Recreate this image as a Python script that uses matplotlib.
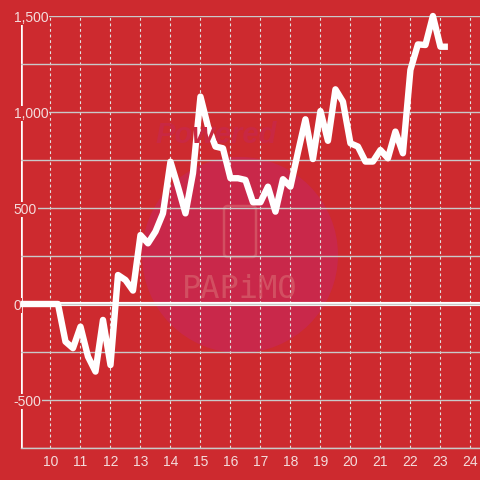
import numpy as np
import matplotlib
matplotlib.use("Agg")
import matplotlib.pyplot as plt
from matplotlib.patches import Circle, FancyBboxPatch

plt.rcParams["font.family"] = ["Liberation Sans", "DejaVu Sans"]

# hour of day (15 min steps) and running value
hours = [9.0, 9.25, 9.5, 9.75, 10.0, 10.25, 10.5, 10.75, 11.0, 11.25, 11.5, 11.75,
         12.0, 12.25, 12.5, 12.75, 13.0, 13.25, 13.5, 13.75, 14.0, 14.25, 14.5, 14.75,
         15.0, 15.25, 15.5, 15.75, 16.0, 16.25, 16.5, 16.75, 17.0, 17.25, 17.5, 17.75,
         18.0, 18.25, 18.5, 18.75, 19.0, 19.25, 19.5, 19.75, 20.0, 20.25, 20.5, 20.75,
         21.0, 21.25, 21.5, 21.75, 22.0, 22.25, 22.5, 22.75, 23.0, 23.25]
values = [0, 0, 0, 0, 0, 0, -196, -230, -118, -274, -352, -83,
          -318, 151, 125, 70, 359, 316, 377, 472, 741, 611, 472, 681,
          1080, 924, 820, 811, 655, 655, 646, 530, 530, 611, 481, 650,
          611, 790, 962, 755, 1005, 850, 1118, 1054, 837, 820, 742, 742,
          802, 759, 898, 785, 1219, 1352, 1349, 1500, 1340, 1340]

xticks = list(range(10, 25))
yticks = [-500, 0, 500, 1000, 1500]
ytick_labels = ["-500", "0", "500", "1,000", "1,500"]

bg = "#cd2a2f"
label_col = "#f4dcdc"

fig = plt.figure(figsize=(4.8, 4.8), dpi=100)
fig.patch.set_facecolor(bg)
ax = fig.add_axes([20.5 / 480, 32 / 480, 459.5 / 480, 432 / 480])
ax.set_facecolor(bg)
ax.set_xlim(9.0, 24.32)
ax.set_ylim(-750, 1500)

# watermark
ax.add_patch(Circle((240 / 480, 225 / 480), 98 / 480, transform=fig.transFigure,
                    facecolor="#c9284a", edgecolor="none", zorder=0.5))
fig.text(0.45, 0.718, "Powered", fontsize=21, fontweight="bold", style="italic",
         color="#c92843", ha="center", va="center", zorder=0.6)
ax.add_patch(FancyBboxPatch((224 / 480, 223 / 480), 32 / 480, 51 / 480,
                            boxstyle="round,pad=0,rounding_size=0.008",
                            transform=fig.transFigure, facecolor="none",
                            edgecolor="#d55a68", lw=1.8, alpha=0.8, zorder=0.6))
fig.text(0.50, 0.397, "PAPiMO", fontsize=23, family="DejaVu Sans Mono",
         color="#d55a68", alpha=0.8, ha="center", va="center", zorder=0.6)

# grid
ax.set_yticks(np.arange(-750, 1501, 250), minor=True)
ax.set_yticks(yticks)
ax.set_yticklabels(ytick_labels)
ax.set_xticks(xticks)
ax.grid(axis="y", which="both", color="#c9c9c9", lw=1)
ax.grid(axis="x", color="#e2e2e2", lw=0.8, linestyle=(0, (2.5, 2.5)))
ax.axhline(0, color="white", lw=3, zorder=3)
ax.axvline(9.0, color="white", lw=2.6, zorder=3)

ax.plot(hours, values, color="white", lw=4.6, zorder=6, clip_on=False,
        solid_joinstyle="round", solid_capstyle="butt")

for s in ["top", "right", "left"]:
    ax.spines[s].set_visible(False)
ax.spines["bottom"].set_color("#c9c9c9")
ax.spines["bottom"].set_linewidth(1)

ax.tick_params(axis="both", which="both", length=0, labelsize=10, colors=label_col)
ax.tick_params(axis="y", pad=5)
ax.tick_params(axis="x", pad=5)
for lbl in ax.get_yticklabels():
    lbl.set_horizontalalignment("left")
    lbl.set_bbox(dict(facecolor=bg, edgecolor="none", pad=0.5))
ax.yaxis.set_zorder(4)
ax.xaxis.set_zorder(2)

fig.savefig("out.png", dpi=100, facecolor=bg)
